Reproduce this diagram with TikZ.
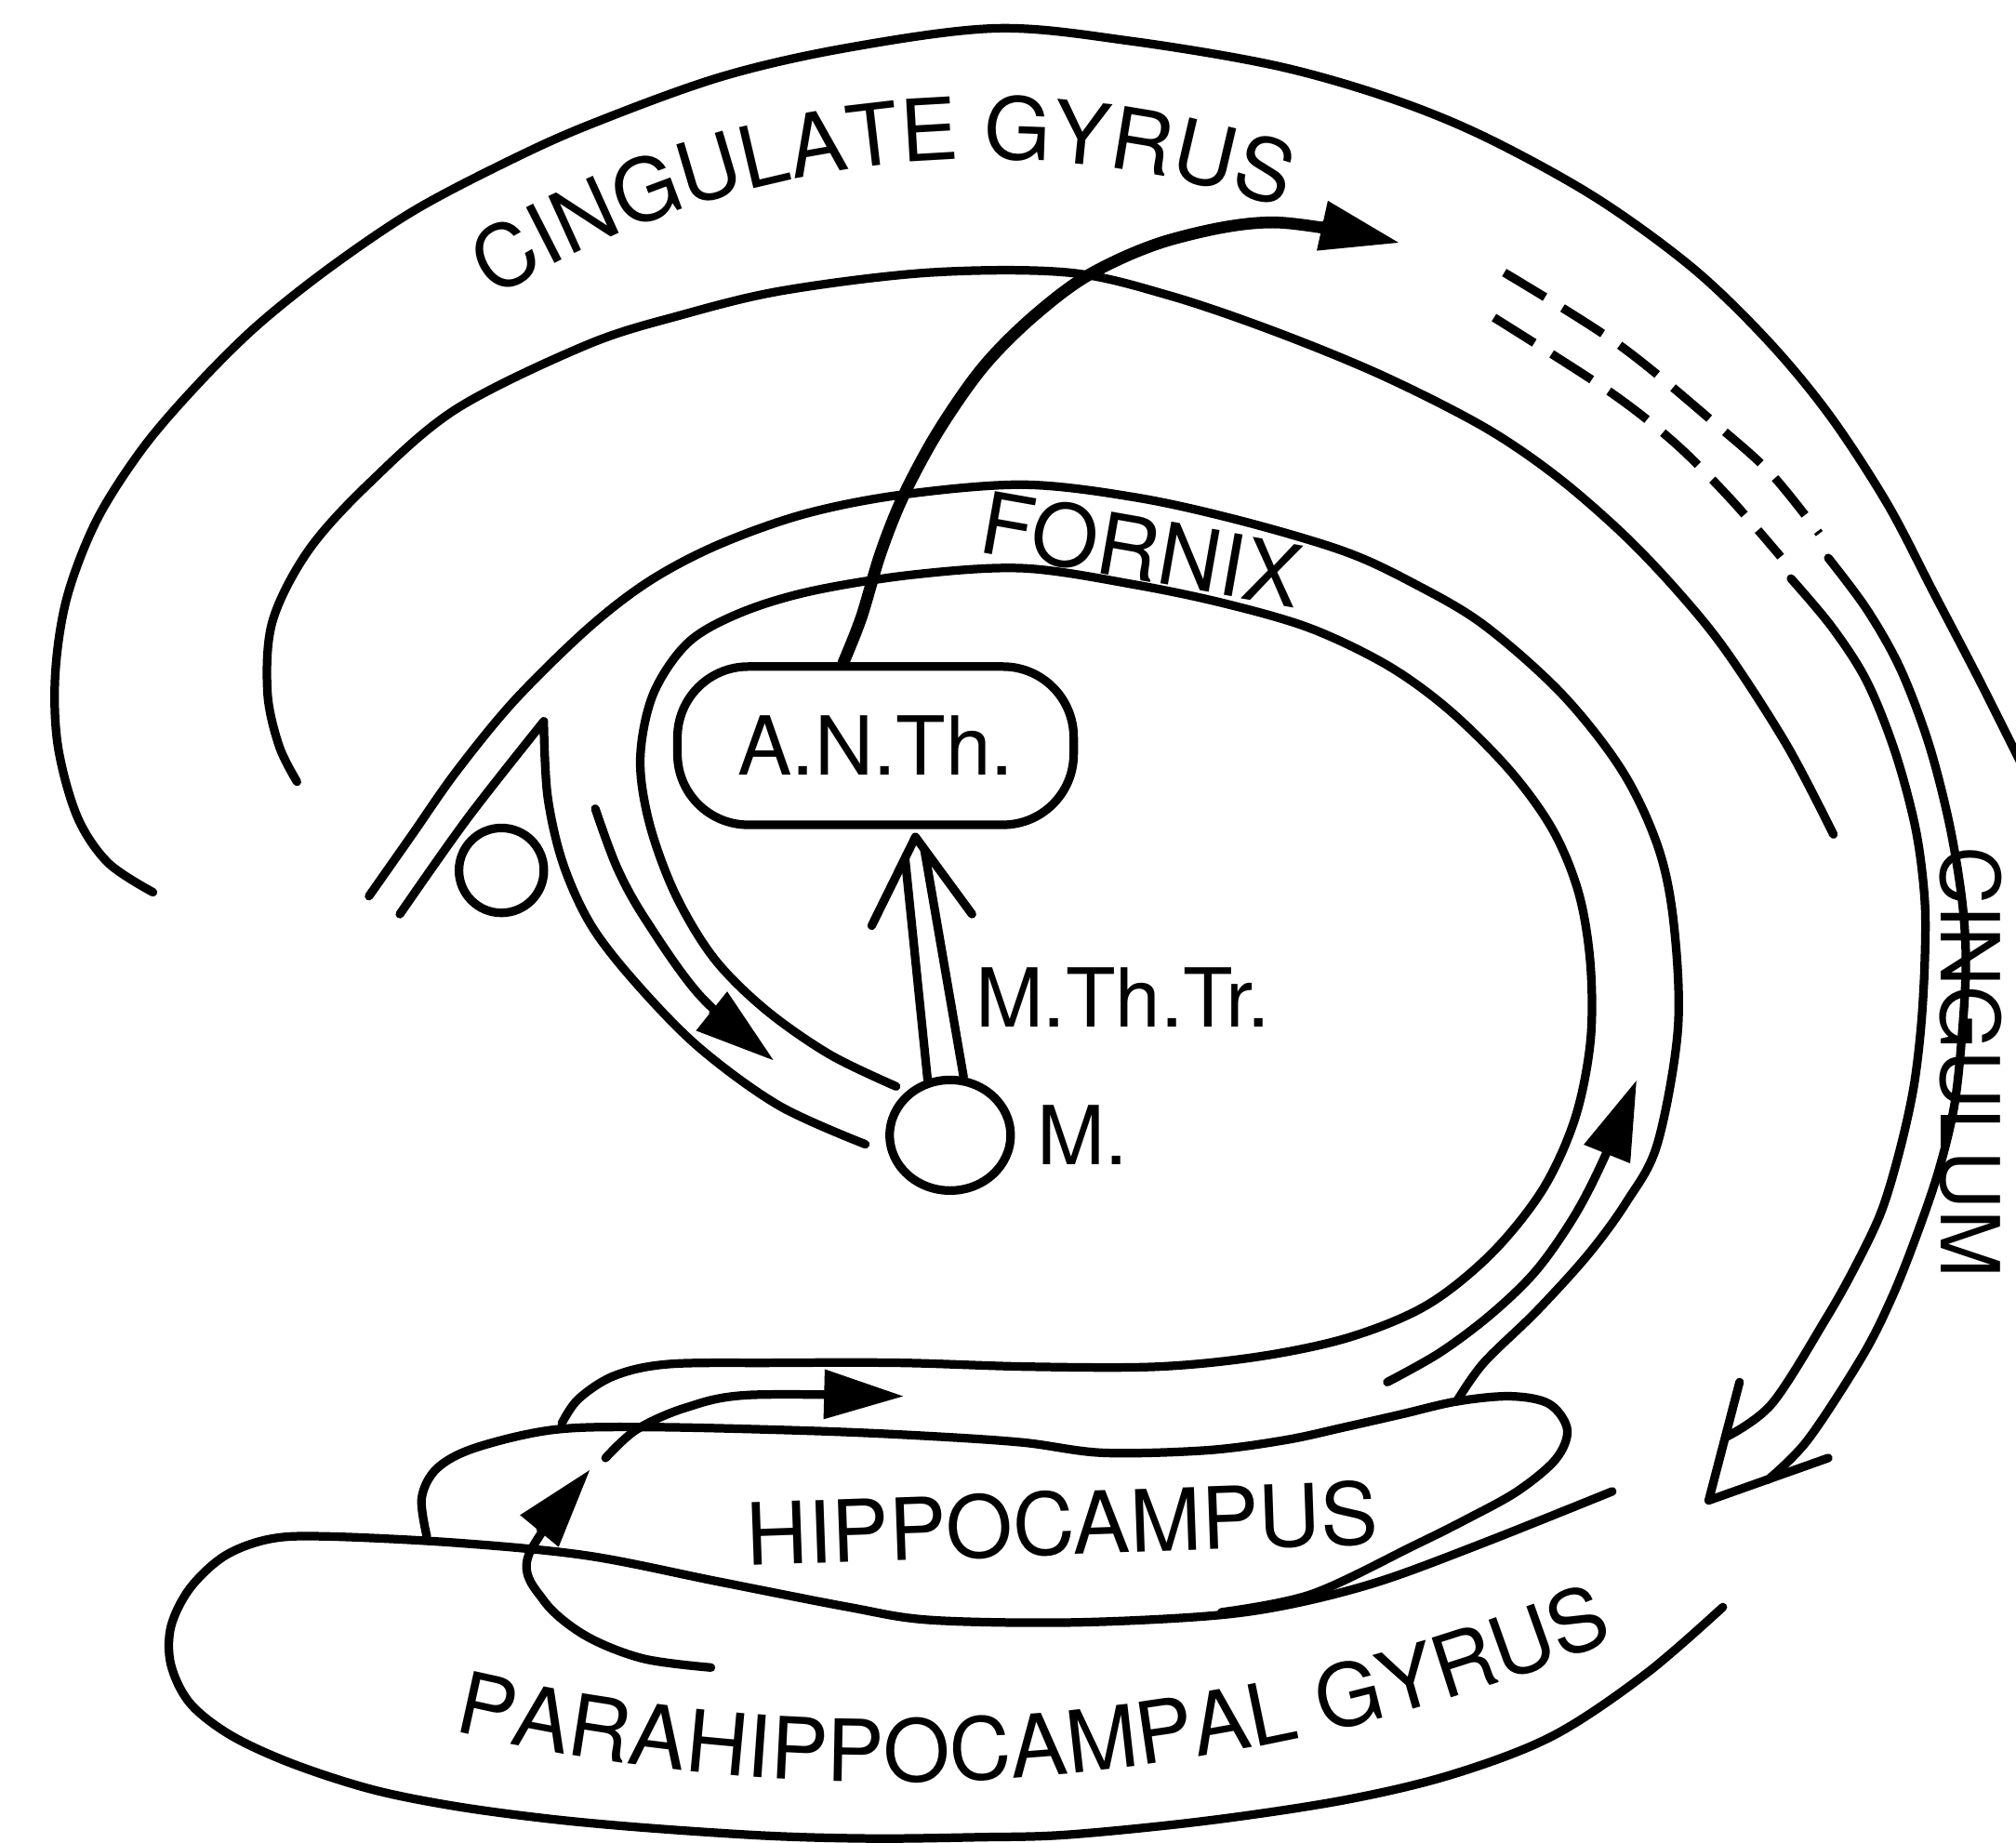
\documentclass[tikz,border=0pt]{standalone}
\usepackage{fontspec}
\setmainfont{TeX Gyre Heros}
\usetikzlibrary{arrows.meta,shapes.geometric,decorations.text}

\newcommand\regionfont{\fontsize{19}{22}\selectfont}
\newcommand\tractfont{\fontsize{18}{21}\selectfont}

\begin{document}
\begin{tikzpicture}[
    x=0.01cm, y=-0.01cm,
    gyrus/.style={line width=1.9pt, line cap=round, line join=round},
    heavy/.style={line width=2.6pt, line cap=round},
    flow/.style={-{Triangle[length=0.62cm, width=0.37cm]}},
    curve/.style={smooth, tension=0.55},
    nucleus/.style={draw, line width=1.9pt, inner sep=0pt},
    region/.style={font=\regionfont, inner sep=0pt},
    tract/.style={font=\tractfont, inner sep=0pt}
]
\useasboundingbox (0,0) rectangle (1568,1433);

% cingulate gyrus
\draw[gyrus] plot[curve] coordinates {(119,694) (84,671) (60,635) (45,580) (43,524) (52,465) (75,405) (110,350) (150,303) (198,255) (254,210) (320,165) (390,128) (456,98) (560,60) (660,37) (776,22) (880,32) (992,51) (1080,76) (1154,106) (1240,153) (1316,208) (1375,265) (1423,323) (1468,392) (1504,461) (1540,530) (1575,600)};
\draw[gyrus] plot[curve] coordinates {(231,608) (217,580) (208,538) (212,483) (240,428) (287,376) (355,318) (457,268) (530,245) (609,226) (723,212) (831,212) (910,230) (992,258) (1075,292) (1154,332) (1210,370) (1262,415) (1305,460) (1343,507) (1390,580) (1426,649)};
\path[decorate, decoration={text along path, text={|\regionfont|CINGULATE GYRUS}, text align=center}]
    (766,854) ++(-125:730) arc[start angle=-125, end angle=-68, radius=730];

% fornix
\draw[gyrus] plot[curve] coordinates {(287,697) (320,650) (355,600) (400,545) (457,489) (505,452) (558,424) (625,400) (700,385) (796,377) (884,387) (965,405) (1046,429) (1100,454) (1154,486) (1215,540) (1262,600) (1290,660) (1302,720) (1305,801) (1289,890) (1265,935) (1235,976) (1195,1020) (1154,1060) (1133,1090)};
\draw[gyrus] plot[curve] coordinates {(697,845) (645,820) (595,785) (555,745) (525,695) (505,640) (498,590) (508,540) (535,500) (575,477) (630,460) (710,447) (796,442) (884,455) (955,470) (1020,489) (1080,518) (1128,553) (1175,600) (1208,646) (1228,695) (1237,750) (1237,810) (1225,870) (1200,925) (1160,975) (1110,1015) (1050,1040) (980,1055) (900,1063) (800,1063) (700,1060) (600,1060) (520,1061) (478,1070) (450,1088) (437,1107)};
\draw[gyrus] plot[curve] coordinates {(311,711) (364,636) (423,561)} -- plot[curve] coordinates {(423,565) (426,620) (438,672) (460,720) (495,765) (544,815) (606,860) (673,890)};
\node[region, rotate=-10] (fornix) at (888,427) {FORNIX};

% hippocampus and parahippocampal gyrus
\draw[gyrus] plot[curve] coordinates {(332,1195) (328,1165) (340,1142) (370,1126) (431,1112) (507,1110) (634,1113) (723,1117) (796,1122) (858,1130) (939,1128) (1000,1120) (1046,1110) (1090,1100) (1133,1090) (1175,1086) (1205,1092) (1219,1112) (1210,1135) (1180,1160) (1140,1182) (1100,1202) (1020,1240) (950,1254)};
\draw[gyrus] plot[curve] coordinates {(1254,1160) (1154,1200) (1073,1230) (1003,1248) (939,1257) (831,1262) (723,1260) (660,1250) (558,1230) (457,1210) (355,1200) (254,1195) (210,1197) (175,1210) (148,1235) (133,1265) (133,1295) (148,1325) (180,1350) (228,1372) (290,1392) (355,1405) (430,1415) (507,1422) (600,1428) (680,1430) (760,1429) (831,1427) (940,1416) (1046,1400) (1130,1380) (1208,1350) (1280,1302) (1340,1250)};
\node[region, rotate=2] (hippo) at (826,1185) {HIPPOCAMPUS};
\path[decorate, decoration={text along path, text={|\regionfont|PARAHIPPOCAMPAL GYRUS}, text align=center}]
    (693,-100) ++(104.5:1486) arc[start angle=104.5, end angle=66.5, radius=1486];

% nuclei
\node[nucleus, rounded corners=0.55cm, minimum width=3.08cm, minimum height=1.23cm, font=\tractfont] (ANTh) at (681,580) {A.N.Th.};
\node[nucleus, ellipse, minimum width=0.94cm, minimum height=0.86cm] (M) at (739,883) {};
\node[nucleus, circle, minimum size=0.66cm] (ac) at (390,677) {};
\node[tract, anchor=west] (mlabel) at (806,883) {M.};
\node[tract, anchor=west] (mthtr) at (758,776) {M.Th.Tr.};

% mammillothalamic tract
\coordinate (mtTip) at (712,651);
\coordinate (mtLeft) at (678,720);
\coordinate (mtRight) at (756,711);
\draw[gyrus] (mtLeft) -- (mtTip) -- (mtRight);
\draw[gyrus] (M.112) -- (704,668);
\draw[gyrus] (M.77) -- (719,661);

% thalamocingulate projection
\draw[heavy, flow] plot[curve] coordinates {(ANTh.111) (670,480) (685,430) (703,385) (730,335) (765,285) (805,245) (850,212) (912,186) (992,173) (1089,189)};

% cingulum
\draw[gyrus, line cap=butt, dash pattern=on 0.37cm off 0.16cm] plot[curve] coordinates {(1170,212) (1259,268) (1337,332) (1378,369) (1415,415)};
\draw[gyrus, line cap=butt, dash pattern=on 0.37cm off 0.16cm] plot[curve] coordinates {(1162,247) (1251,304) (1302,344) (1345,387) (1385,433)};
\draw[gyrus] plot[curve] coordinates {(1422,434) (1452,474) (1478,520) (1500,578) (1516,640) (1526,700) (1529,749) (1526,805) (1520,860) (1508,910) (1491,960) (1472,1008) (1449,1054) (1406,1120) (1375,1151)};
\draw[gyrus] plot[curve] coordinates {(1393,450) (1425,488) (1452,530) (1474,585) (1490,645) (1497,700) (1497,749) (1494,800) (1488,848) (1477,897) (1463,943) (1443,985) (1420,1026) (1378,1092) (1342,1118)};
\coordinate (cgTip) at (1329,1167);
\draw[gyrus] (1353,1075) -- (cgTip) -- (1422,1134);
\node[tract, rotate=-90] (cingulum) at (1533,826) {CINGULUM};

% circuit arrows
\draw[gyrus, flow] plot[curve] coordinates {(463,629) (480,675) (502,715) (545,775) (602,825)};
\draw[gyrus, flow] plot[curve] coordinates {(1079,1075) (1120,1052) (1160,1022) (1195,988) (1225,945) (1248,900) (1273,840)};
\draw[gyrus, flow] plot[curve] coordinates {(553,1297) (500,1290) (455,1272) (423,1245) (411,1210) (459,1143)};
\draw[gyrus, flow] plot[curve] coordinates {(471,1134) (495,1112) (533,1095) (583,1085) (703,1086)};

\end{tikzpicture}
\end{document}
